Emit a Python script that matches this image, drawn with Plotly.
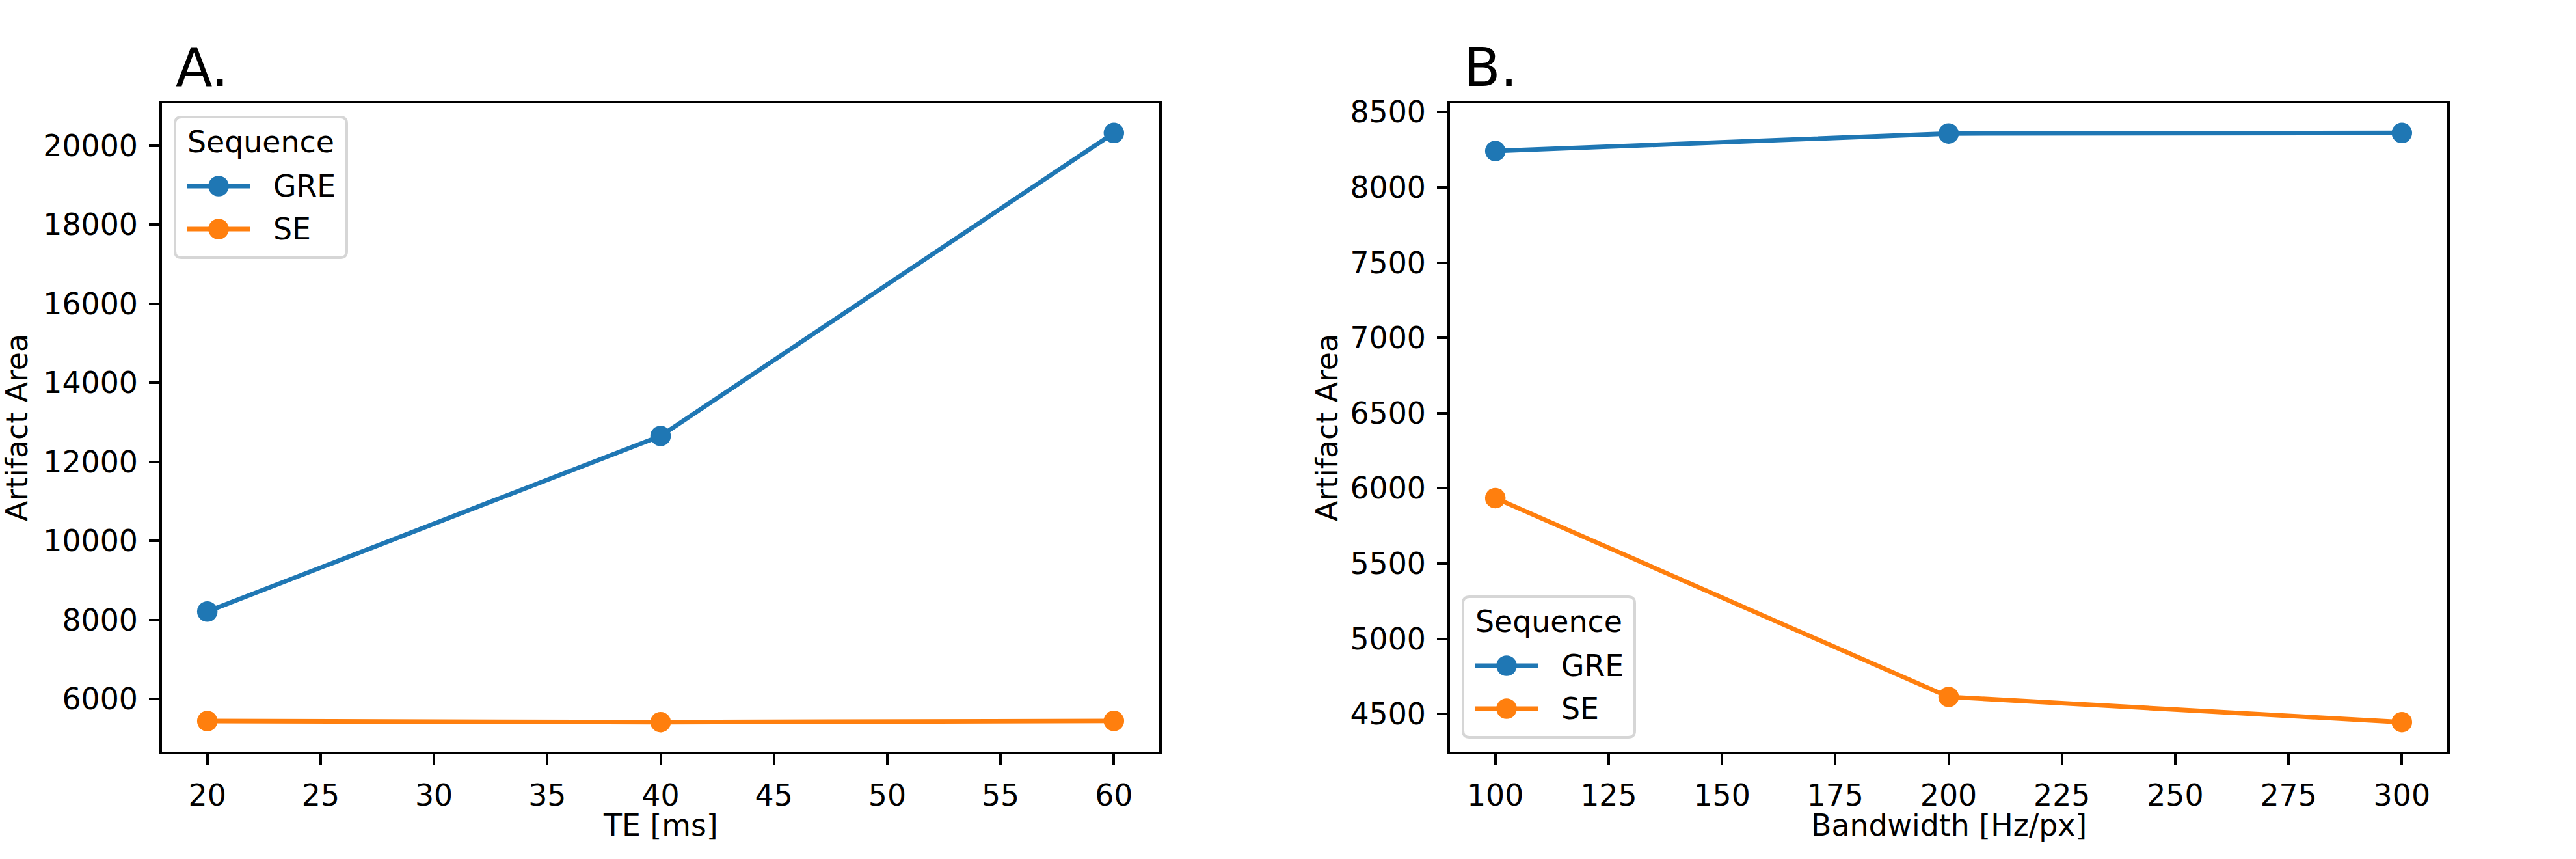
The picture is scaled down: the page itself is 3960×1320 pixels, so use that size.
import plotly.graph_objects as go

# ---- data ----
te_ms = [20, 40, 60]
te_gre = [8216, 12656, 20318]
te_se = [5447, 5419, 5450]

bw_hz = [100, 200, 300]
bw_gre = [8242, 8358, 8362]
bw_se = [5935, 4614, 4446]

series_names = ["GRE", "SE"]
series_colors = ["#1f77b4", "#ff7f0e"]
legend_title = "Sequence"

W, H = 3960, 1320
FONT = "DejaVu Sans"
FS = 45.8           # 10 pt at 330 dpi
TITLE_FS = 82.5     # 18 pt
LW = 6.9            # 1.5 pt
MS = 31.5           # 6 pt marker + edge
SPINE = 3.7         # 0.8 pt
TICKLEN = 16

# axes boxes in pixels (left, right, top, bottom)
axA = (249, 1782, 159, 1155)
axB = (2229, 3762, 159, 1155)


def px_x(x):
    return x / W


def px_y(y):
    return 1 - y / H


fig = go.Figure()

for name, color, ys in zip(series_names, series_colors, [te_gre, te_se]):
    fig.add_trace(go.Scatter(
        x=te_ms, y=ys, name=name, mode="lines+markers",
        line=dict(color=color, width=LW),
        marker=dict(color=color, size=MS),
        xaxis="x", yaxis="y", showlegend=False,
    ))

for name, color, ys in zip(series_names, series_colors, [bw_gre, bw_se]):
    fig.add_trace(go.Scatter(
        x=bw_hz, y=ys, name=name, mode="lines+markers",
        line=dict(color=color, width=LW),
        marker=dict(color=color, size=MS),
        xaxis="x2", yaxis="y2", showlegend=False,
    ))


def pad_range(vals, frac=0.05):
    lo, hi = min(vals), max(vals)
    d = (hi - lo) * frac
    return [lo - d, hi + d]


axis_common = dict(
    showline=True, linecolor="black", linewidth=SPINE, mirror=True,
    ticks="outside", ticklen=TICKLEN, tickwidth=SPINE, tickcolor="black",
    showgrid=False, zeroline=False, automargin=False,
    tickfont=dict(family=FONT, size=FS, color="black"),
    tickformat="d", ticklabelstandoff=8,
)

fig.update_layout(
    width=W, height=H,
    margin=dict(l=0, r=0, t=0, b=0),
    paper_bgcolor="white", plot_bgcolor="white",
    font=dict(family=FONT, size=FS, color="black"),
    showlegend=False,
    xaxis=dict(domain=[px_x(axA[0]), px_x(axA[1])], range=pad_range(te_ms),
               tick0=20, dtick=5, anchor="y", **axis_common),
    yaxis=dict(domain=[px_y(axA[3]), px_y(axA[2])],
               range=pad_range(te_gre + te_se), tick0=0, dtick=2000,
               anchor="x", **axis_common),
    xaxis2=dict(domain=[px_x(axB[0]), px_x(axB[1])], range=pad_range(bw_hz),
                tick0=100, dtick=25, anchor="y2", **axis_common),
    yaxis2=dict(domain=[px_y(axB[3]), px_y(axB[2])],
                range=pad_range(bw_gre + bw_se), tick0=0, dtick=500,
                anchor="x2", **axis_common),
)

annotations = [
    # panel titles
    dict(text="A.", x=px_x(268), y=px_y(103), xanchor="left", yanchor="middle",
         font=dict(family=FONT, size=TITLE_FS, color="black")),
    dict(text="B.", x=px_x(2248), y=px_y(103), xanchor="left", yanchor="middle",
         font=dict(family=FONT, size=TITLE_FS, color="black")),
    # axis titles
    dict(text="TE [ms]", x=px_x((axA[0] + axA[1]) / 2), y=px_y(1268),
         xanchor="center", yanchor="middle",
         font=dict(family=FONT, size=FS, color="black")),
    dict(text="Bandwidth [Hz/px]", x=px_x((axB[0] + axB[1]) / 2), y=px_y(1268),
         xanchor="center", yanchor="middle",
         font=dict(family=FONT, size=FS, color="black")),
    dict(text="Artifact Area", x=px_x(26), y=px_y((axA[2] + axA[3]) / 2),
         xanchor="center", yanchor="middle", textangle=-90,
         font=dict(family=FONT, size=FS, color="black")),
    dict(text="Artifact Area", x=px_x(2040), y=px_y((axB[2] + axB[3]) / 2),
         xanchor="center", yanchor="middle", textangle=-90,
         font=dict(family=FONT, size=FS, color="black")),
]

shapes = []


def add_legend(left, top):
    """Matplotlib-style legend box (frame, title, line+marker swatches)."""
    w, h, r = 264, 216, 10
    x0, x1, y0, y1 = left, left + w, top, top + h
    X = px_x
    Y = px_y
    path = (
        f"M {X(x0 + r)},{Y(y0)} L {X(x1 - r)},{Y(y0)} "
        f"Q {X(x1)},{Y(y0)} {X(x1)},{Y(y0 + r)} L {X(x1)},{Y(y1 - r)} "
        f"Q {X(x1)},{Y(y1)} {X(x1 - r)},{Y(y1)} L {X(x0 + r)},{Y(y1)} "
        f"Q {X(x0)},{Y(y1)} {X(x0)},{Y(y1 - r)} L {X(x0)},{Y(y0 + r)} "
        f"Q {X(x0)},{Y(y0)} {X(x0 + r)},{Y(y0)} Z"
    )
    shapes.append(dict(type="path", path=path, xref="paper", yref="paper",
                       fillcolor="rgba(255,255,255,0.8)",
                       line=dict(color="#d6d6d6", width=4), layer="above"))
    annotations.append(dict(text=legend_title, x=X(left + w / 2), y=Y(top + 38),
                            xanchor="center", yanchor="middle",
                            font=dict(family=FONT, size=FS, color="black")))
    for i, (name, color) in enumerate(zip(series_names, series_colors)):
        cy = top + 106 + 66 * i
        shapes.append(dict(type="line", xref="paper", yref="paper",
                           x0=X(left + 18), x1=X(left + 116), y0=Y(cy), y1=Y(cy),
                           line=dict(color=color, width=LW), layer="above"))
        cx = left + 67
        rr = MS / 2
        shapes.append(dict(type="circle", xref="paper", yref="paper",
                           x0=X(cx - rr), x1=X(cx + rr), y0=Y(cy + rr), y1=Y(cy - rr),
                           fillcolor=color, line=dict(width=0), layer="above"))
        annotations.append(dict(text=name, x=X(left + 149), y=Y(cy),
                                xanchor="left", yanchor="middle",
                                font=dict(family=FONT, size=FS, color="black")))


add_legend(269, 180)
add_legend(2249, 917)

for a in annotations:
    a.update(xref="paper", yref="paper", showarrow=False)
fig.update_layout(annotations=annotations, shapes=shapes)

fig.write_html(
    "out.html",
    config={"displayModeBar": False},
    post_script="document.body.style.margin='0';document.body.style.overflow='hidden';",
)
